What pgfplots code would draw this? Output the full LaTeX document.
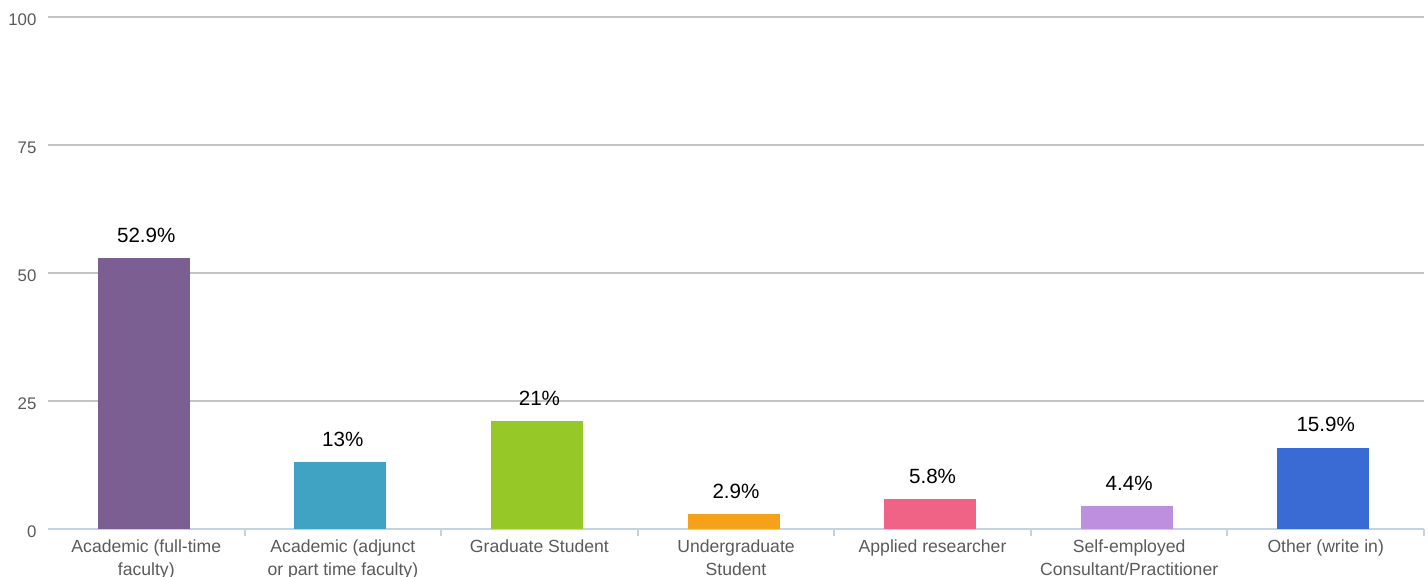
\documentclass[border=0pt]{standalone}
\usepackage{pgfplots}
\pgfplotsset{compat=1.18}
\usepackage{fontspec}
\setmainfont{Liberation Sans}
\definecolor{c1}{HTML}{7B5E92}
\definecolor{c2}{HTML}{40A3C3}
\definecolor{c3}{HTML}{96C928}
\definecolor{c4}{HTML}{F4A21C}
\definecolor{c5}{HTML}{F06386}
\definecolor{c6}{HTML}{BF8FDF}
\definecolor{c7}{HTML}{3A6BD4}
\definecolor{axisblue}{HTML}{C5D2E0}
\definecolor{gridgray}{HTML}{C4C4C4}
\definecolor{labgray}{HTML}{5A5A5A}
\begin{document}
\begin{tikzpicture}
\begin{axis}[
  at={(0,0)}, anchor=south west,
  scale only axis, width=688pt, height=256pt,
  xmin=-0.5, xmax=6.5, ymin=0, ymax=100,
  clip=false,
  axis x line*=bottom, axis y line*=left,
  y axis line style={draw=none},
  x axis line style={draw=axisblue, line width=1pt},
  ytick={0,25,50,75,100},
  ytick style={draw=none},
  ymajorgrids, grid style={gridgray, line width=0.6pt},
  yticklabel style={font=\fontsize{8.4}{10}\selectfont, text=labgray, xshift=2pt, yshift=-1.5pt},
  /pgf/number format/assume math mode=true,
  xtick={0,1,2,3,4,5,6},
  xticklabels={{Academic (full-time\\faculty)},{Academic (adjunct\\or part time faculty)},{Graduate Student},{Undergraduate\\Student},{Applied researcher},{Self-employed\\Consultant/Practitioner},{Other (write in)}},
  major x tick style={draw=none},
  minor xtick={0.5,1.5,2.5,3.5,4.5,5.5,6.5},
  minor x tick style={draw=axisblue, line width=1pt},
  minor tick length=3.5pt, tick align=outside,
  xticklabel style={font=\fontsize{8.8}{11.6}\selectfont, text=labgray, align=center, anchor=north, yshift=2.5pt},
  ybar, bar width=46pt, bar shift=-1.25pt,
  nodes near coords={\pgfmathprintnumber{\pgfplotspointmeta}\%},
  nodes near coords style={font=\fontsize{10.3}{12}\selectfont, text=black, inner sep=0pt, anchor=south, yshift=7.5pt, xshift=1.25pt, /pgf/number format/assume math mode=true},
]
\addplot[fill=c1, draw=none] coordinates {(0,52.9)};
\addplot[fill=c2, draw=none] coordinates {(1,13)};
\addplot[fill=c3, draw=none] coordinates {(2,21)};
\addplot[fill=c4, draw=none] coordinates {(3,2.9)};
\addplot[fill=c5, draw=none] coordinates {(4,5.8)};
\addplot[fill=c6, draw=none] coordinates {(5,4.4)};
\addplot[fill=c7, draw=none] coordinates {(6,15.9)};
\end{axis}
\pgfresetboundingbox
\path (-24pt,-24pt) rectangle (690pt,264.5pt);
\end{tikzpicture}
\end{document}
